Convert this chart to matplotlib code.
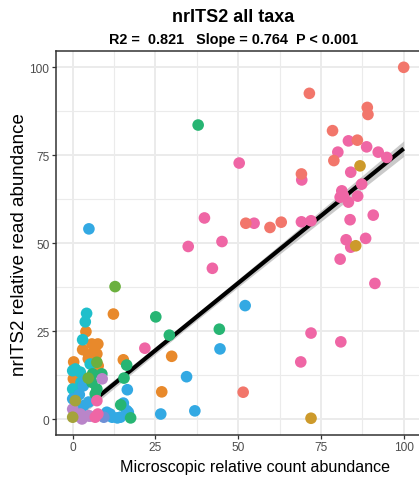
import matplotlib
matplotlib.use("Agg")
import matplotlib.pyplot as plt
import numpy as np

plt.rcParams['font.family'] = ['Liberation Sans', 'DejaVu Sans']

# Microscopic relative count (x) and nrITS2 relative read abundance (y), per taxon group
salmon_x = [100, 71.5, 89.0, 89.2, 78.5, 86.0, 78.9, 69.1, 52.3, 59.6, 63.0, 51.5]
salmon_y = [100, 92.6, 88.6, 86.6, 82.0, 79.3, 73.5, 69.7, 55.7, 54.5, 56.0, 7.7]

orange_x = [12.3, 15.3, 29.9, 26.9, 4.0, 5.8, 7.6, 4.8, 7.3, 3.0, 4.7, 0.3, 0.2, 6.5, 7.7]
orange_y = [29.9, 16.9, 17.9, 7.8, 24.9, 21.4, 21.4, 18.3, 18.6, 19.8, 17.2, 16.3, 11.5, 19.5, 15.2]

gold_x = [86.8, 85.5, 72.0]
gold_y = [72.0, 49.3, 0.3]

cyan_x = [4.2, 3.8, 3.0, 5.3, 0.8, 2.3, 0.0, 1.3, 0.0, 2.5]
cyan_y = [30.1, 27.7, 22.6, 15.7, 14.3, 13.4, 13.8, 8.6, 8.6, 10.5]

blue_x = [4.9, 52.1, 44.5, 34.4, 16.5, 15.3, 15.1, 16.3, 16.8, 13.5, 11.3, 26.6, 36.9,
          3.8, 3.3, 4.8, 0.0, 11.9, 14.4, 10.3, 3.2, 2.0, 1.0]
blue_y = [54.1, 32.3, 20.0, 12.1, 8.4, 4.6, 3.9, 2.5, 2.0, 0.4, 1.5, 1.5, 2.4,
          11.0, 3.9, 4.9, 5.8, 0.6, 0.6, 2.0, 9.5, 7.0, 3.0]

green_x = [37.9, 25.1, 29.2, 44.3, 16.3, 15.5, 14.5, 17.5, 7.3, 6.8, 6.0, 8.8, 5.8]
green_y = [83.6, 29.1, 23.9, 25.6, 15.4, 11.7, 4.1, 0.4, 8.6, 7.2, 12.9, 12.9, 10.5]

lime_x = [12.8, 7.3, 4.7]
lime_y = [37.7, 16.2, 11.7]

purple_x = [8.9, 0.0, 2.3, 4.8, 2.8, 5.2, 1.0]
purple_y = [11.5, 2.9, 1.5, 1.0, 0.1, 0.9, 1.0]

lavender_x = [9.4]
lavender_y = [0.6]

olive_x = [0.8, 0.0]
olive_y = [5.3, 0.6]

pink_x = [50.3, 39.8, 54.8, 34.9, 45.1, 42.2, 83.3, 88.8, 80.1, 92.3, 94.9, 69.2, 84.0,
          87.3, 81.3, 81.8, 80.8, 83.3, 86.1, 90.8, 69.1, 72.0, 83.8, 82.6, 88.5, 84.0,
          80.8, 91.3, 72.0, 81.0, 68.9, 21.8, 7.3, 6.8, 7.6]
pink_y = [72.8, 57.2, 55.7, 49.1, 50.5, 42.9, 79.1, 77.4, 75.9, 75.9, 74.4, 68.0, 70.2,
          66.8, 64.9, 63.5, 63.1, 61.7, 63.4, 58.0, 56.1, 56.4, 56.7, 51.0, 51.4, 48.9,
          45.5, 38.6, 24.5, 22.0, 16.3, 20.2, 5.3, 0.6, 1.5]

groups = [
    (orange_x, orange_y, "#E8892B"),
    (cyan_x, cyan_y, "#1FBFCB"),
    (blue_x, blue_y, "#33A9E3"),
    (green_x, green_y, "#27B573"),
    (lime_x, lime_y, "#6BB03E"),
    (purple_x, purple_y, "#B985C9"),
    (lavender_x, lavender_y, "#6E90D6"),
    (olive_x, olive_y, "#A5A33B"),
    (pink_x, pink_y, "#EF66A5"),
    (salmon_x, salmon_y, "#F2766B"),
    (gold_x, gold_y, "#CD9A2B"),
]

# Fit summary shown in the subtitle
r2 = 0.821
slope = 0.764
intercept = 0.5
ticks = [0, 25, 50, 75, 100]

W, H = 419, 485
fig = plt.figure(figsize=(W / 100, H / 100), dpi=100)
left_px, right_px, top_px, bottom_px = 56.2, 419.5, 51.5, 435.5
ax = fig.add_axes([left_px / W, 1 - bottom_px / H,
                   (right_px - left_px) / W, (bottom_px - top_px) / H])

# pixel-to-data: x0 at 72.7px, 3.31 px/unit; y0 at 420.3px, 3.52 px/unit
ax.set_xlim((left_px - 72.7) / 3.31, (right_px - 72.7) / 3.31)
ax.set_ylim((420.3 - bottom_px) / 3.52, (420.3 - top_px) / 3.52)

ax.set_xticks(ticks)
ax.set_yticks(ticks)
ax.set_xticks([12.5, 37.5, 62.5, 87.5], minor=True)
ax.set_yticks([12.5, 37.5, 62.5, 87.5], minor=True)
ax.grid(True, which='major', color='#EBEBEB', lw=1.4, zorder=0)
ax.grid(True, which='minor', color='#EBEBEB', lw=0.8, zorder=0)
ax.set_axisbelow(True)
ax.tick_params(which='minor', length=0)
ax.tick_params(which='major', length=3, width=0.9, color='#333333',
               labelsize=8.6, labelcolor='#4D4D4D', pad=2)

for side in ['left', 'bottom', 'top']:
    ax.spines[side].set_color('#333333')
    ax.spines[side].set_linewidth(1.1)
ax.spines['right'].set_visible(False)

# Regression line with confidence band
all_x = np.concatenate([np.asarray(g[0], float) for g in groups])
all_y = np.concatenate([np.asarray(g[1], float) for g in groups])
n = len(all_x)
resid = all_y - (intercept + slope * all_x)
s = np.sqrt(np.sum(resid ** 2) / (n - 2))
xbar = all_x.mean()
sxx = np.sum((all_x - xbar) ** 2)
xs = np.linspace(0, 100, 200)
fit = intercept + slope * xs
se = s * np.sqrt(1 / n + (xs - xbar) ** 2 / sxx)
ax.fill_between(xs, fit - 0.35 * 1.96 * se, fit + 0.35 * 1.96 * se,
                color='#BDBDBD', alpha=0.8, lw=0, zorder=2)
ax.plot(xs, fit, color='black', lw=3.0, zorder=3, solid_capstyle='butt')

for gx, gy, col in groups:
    ax.scatter(gx, gy, s=70, color=col, edgecolors='none', zorder=4)

ax.set_xlabel('Microscopic relative count abundance', fontsize=11.6, color='black')
ax.xaxis.set_label_coords((255 - left_px) / (right_px - left_px), -(468 - bottom_px) / (bottom_px - top_px))
ax.xaxis.label.set_va('center')
ax.set_ylabel('nrITS2 relative read abundance', fontsize=13.5, color='black')
ax.yaxis.set_label_coords(-(left_px - 20) / (right_px - left_px), (bottom_px - 245) / (bottom_px - top_px))
ax.yaxis.label.set_va('center')

fig.text(233 / W, 1 - 17 / H, 'nrITS2 all taxa', ha='center', va='center',
         fontsize=13, fontweight='bold')
fig.text(234 / W, 1 - 40 / H,
         f'R2 =  {r2:.3f}   Slope = {slope:.3f}  P < 0.001',
         ha='center', va='center', fontsize=10.4, fontweight='bold')

fig.savefig('out.png', dpi=100)
